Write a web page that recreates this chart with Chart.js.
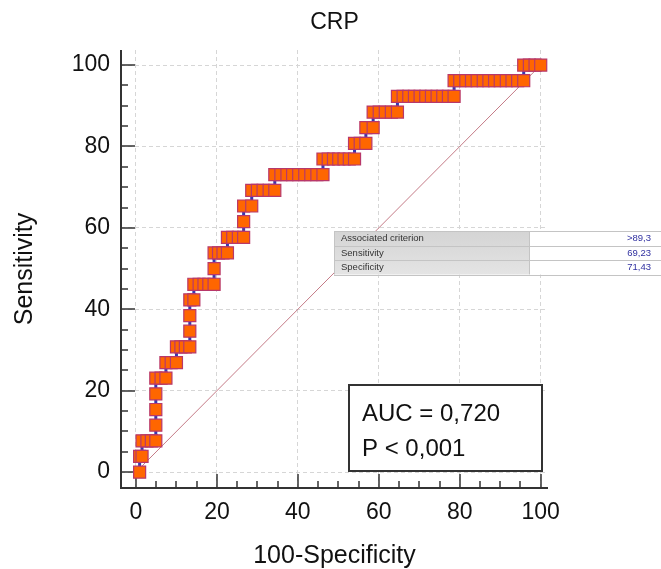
<!DOCTYPE html>
<html>
<head>
<meta charset="utf-8">
<script src="https://cdn.jsdelivr.net/npm/chart.js@4.4.0/dist/chart.umd.min.js"></script>
<style>
    html, body { margin: 0; padding: 0; background: #fff; }
</style>
</head>
<body>
<canvas id="roc" width="661" height="569"></canvas>
<script>
// ROC curve for CRP (MedCalc style)

const FONT = "'Liberation Sans', Arial, sans-serif";

// 100-Specificity and Sensitivity, one line per sensitivity level
const fpr = [
    0.9,
    0.9, 1.5,
    1.5, 2.7, 3.8, 4.9,
    4.9,
    4.9,
    4.9,
    4.9, 6.2, 7.4,
    7.4, 8.7, 10.0,
    10.0, 11.1, 12.2, 13.3,
    13.3,
    13.3,
    13.3, 14.3,
    14.3, 15.6, 16.8, 18.0, 19.3,
    19.3,
    19.3, 20.4, 21.5, 22.6,
    22.6, 23.9, 25.3, 26.6,
    26.6,
    26.6, 28.6,
    28.6, 30.0, 31.4, 32.9, 34.3,
    34.3, 35.8, 37.3, 38.7, 40.2, 41.7, 43.2, 44.7, 46.2,
    46.2, 47.5, 48.8, 50.1, 51.4, 52.7, 54.0,
    54.0, 55.4, 56.8,
    56.8, 58.6,
    58.6, 60.1, 61.6, 63.1, 64.6,
    64.6, 66.0, 67.4, 68.8, 70.2, 71.6, 73.0, 74.4, 75.8, 77.2, 78.6,
    78.6, 80.0, 81.5, 82.9, 84.3, 85.8, 87.2, 88.6, 90.0, 91.5, 92.9, 94.3, 95.8,
    95.8, 97.2, 98.6, 100
];
const sens = [
    0,
    3.85, 3.85,
    7.69, 7.69, 7.69, 7.69,
    11.54,
    15.38,
    19.23,
    23.08, 23.08, 23.08,
    26.92, 26.92, 26.92,
    30.77, 30.77, 30.77, 30.77,
    34.62,
    38.46,
    42.31, 42.31,
    46.15, 46.15, 46.15, 46.15, 46.15,
    50.00,
    53.85, 53.85, 53.85, 53.85,
    57.69, 57.69, 57.69, 57.69,
    61.54,
    65.38, 65.38,
    69.23, 69.23, 69.23, 69.23, 69.23,
    73.08, 73.08, 73.08, 73.08, 73.08, 73.08, 73.08, 73.08, 73.08,
    76.92, 76.92, 76.92, 76.92, 76.92, 76.92, 76.92,
    80.77, 80.77, 80.77,
    84.62, 84.62,
    88.46, 88.46, 88.46, 88.46, 88.46,
    92.31, 92.31, 92.31, 92.31, 92.31, 92.31, 92.31, 92.31, 92.31, 92.31, 92.31,
    96.15, 96.15, 96.15, 96.15, 96.15, 96.15, 96.15, 96.15, 96.15, 96.15, 96.15, 96.15, 96.15,
    100, 100, 100, 100
];

const tickValues = [0, 20, 40, 60, 80, 100];
const minorStep = 5;

const criterionLabels = ['Associated criterion', 'Sensitivity', 'Specificity'];
const criterionValues = ['>89,3', '69,23', '71,43'];
const aucLines = ['AUC = 0,720', 'P < 0,001'];

const rocPoints = fpr.map((v, i) => ({ x: v, y: sens[i] }));

// axis lines with inward major/minor ticks, plus the two info boxes
const axisFrame = {
    id: 'axisFrame',
    beforeDatasetsDraw(chart) {
        const { ctx, chartArea: a, scales: { x, y } } = chart;
        ctx.save();
        ctx.strokeStyle = '#333';
        ctx.lineWidth = 2;
        ctx.beginPath();
        ctx.moveTo(a.left, a.top);
        ctx.lineTo(a.left, a.bottom);
        ctx.lineTo(a.right, a.bottom);
        ctx.stroke();

        ctx.lineWidth = 1.5;
        ctx.beginPath();
        for (let v = 0; v <= 100; v += minorStep) {
            const len = tickValues.includes(v) ? 14 : 7;
            const py = Math.round(y.getPixelForValue(v));
            ctx.moveTo(a.left, py);
            ctx.lineTo(a.left + len, py);
            const px = Math.round(x.getPixelForValue(v));
            ctx.moveTo(px, a.bottom);
            ctx.lineTo(px, a.bottom - len);
        }
        ctx.stroke();
        ctx.restore();
    },
    afterDraw(chart) {
        const { ctx } = chart;
        ctx.save();

        // criterion table
        const tx = 334, ty = 231, rowH = 14.5, grayW = 195, fullW = 327;
        ctx.fillStyle = '#ffffff';
        ctx.fillRect(tx, ty, fullW, rowH * 3);
        const g = ctx.createLinearGradient(0, ty, 0, ty + rowH * 3);
        g.addColorStop(0, '#d4d4d4');
        g.addColorStop(1, '#e4e4e4');
        ctx.fillStyle = g;
        ctx.fillRect(tx, ty, grayW, rowH * 3);
        ctx.strokeStyle = '#c4c4c4';
        ctx.lineWidth = 1;
        ctx.beginPath();
        for (let r = 0; r <= 3; r++) {
            ctx.moveTo(tx, Math.round(ty + r * rowH) + 0.5);
            ctx.lineTo(tx + fullW, Math.round(ty + r * rowH) + 0.5);
        }
        ctx.moveTo(tx + 0.5, ty);
        ctx.lineTo(tx + 0.5, ty + rowH * 3);
        ctx.moveTo(tx + grayW + 0.5, ty);
        ctx.lineTo(tx + grayW + 0.5, ty + rowH * 3);
        ctx.stroke();

        ctx.font = '9.5px ' + FONT;
        ctx.textBaseline = 'middle';
        criterionLabels.forEach((t, i) => {
            ctx.fillStyle = '#333';
            ctx.textAlign = 'left';
            ctx.fillText(t, tx + 7, ty + rowH * i + rowH / 2 + 0.5);
            ctx.fillStyle = '#3030a0';
            ctx.textAlign = 'right';
            ctx.fillText(criterionValues[i], 651, ty + rowH * i + rowH / 2 + 0.5);
        });

        // AUC box
        ctx.fillStyle = '#ffffff';
        ctx.fillRect(349, 385, 193, 86);
        ctx.strokeStyle = '#333';
        ctx.lineWidth = 2;
        ctx.strokeRect(349, 385, 193, 86);
        ctx.fillStyle = '#111';
        ctx.font = '24px ' + FONT;
        ctx.textAlign = 'left';
        ctx.textBaseline = 'alphabetic';
        ctx.fillText(aucLines[0], 362, 421);
        ctx.fillText(aucLines[1], 362, 456);
        ctx.restore();
    }
};

const gridOpts = {
    color: '#d6d6d6',
    lineWidth: 1,
    drawTicks: false
};

new Chart(document.getElementById('roc'), {
    type: 'scatter',
    data: {
        datasets: [
            {
                data: rocPoints,
                showLine: true,
                borderColor: '#3838b0',
                borderWidth: 3,
                pointStyle: 'rect',
                pointRadius: 8.5,
                pointBackgroundColor: '#ff6600',
                pointBorderColor: '#b8386a',
                pointBorderWidth: 1.2,
                order: 1
            },
            {
                data: [{ x: 0, y: 0 }, { x: 100, y: 100 }],
                showLine: true,
                borderColor: '#c47a86',
                borderWidth: 1,
                pointRadius: 0,
                order: 2
            }
        ]
    },
    options: {
        responsive: false,
        animation: false,
        events: [],
        layout: { padding: { left: 0, right: 113, top: 0, bottom: 0 } },
        plugins: {
            legend: { display: false },
            tooltip: { enabled: false },
            title: {
                display: true,
                text: 'CRP',
                fullSize: false,
                color: '#111',
                font: { family: FONT, size: 23, weight: 'normal' },
                padding: { top: 9, bottom: 13.4 }
            }
        },
        scales: {
            x: {
                type: 'linear',
                min: -3.7,
                max: 101.8,
                afterBuildTicks: s => { s.ticks = tickValues.map(v => ({ value: v })); },
                afterFit: s => { s.height = 81; },
                grid: gridOpts,
                border: { display: false, dash: [4, 3] },
                ticks: {
                    color: '#111',
                    padding: 11,
                    maxRotation: 0,
                    font: { family: FONT, size: 23 }
                },
                title: {
                    display: true,
                    text: '100-Specificity',
                    color: '#111',
                    font: { family: FONT, size: 25 },
                    padding: { top: 0, bottom: -2 }
                }
            },
            y: {
                type: 'linear',
                min: -3.9,
                max: 103.7,
                afterBuildTicks: s => { s.ticks = tickValues.map(v => ({ value: v })); },
                afterFit: s => { s.width = 121; },
                grid: gridOpts,
                border: { display: false, dash: [4, 3] },
                ticks: {
                    color: '#111',
                    padding: 11,
                    font: { family: FONT, size: 23 }
                },
                title: {
                    display: true,
                    text: 'Sensitivity',
                    color: '#111',
                    font: { family: FONT, size: 25 },
                    padding: { top: 10, bottom: 0 }
                }
            }
        }
    },
    plugins: [axisFrame]
});
</script>
</body>
</html>
